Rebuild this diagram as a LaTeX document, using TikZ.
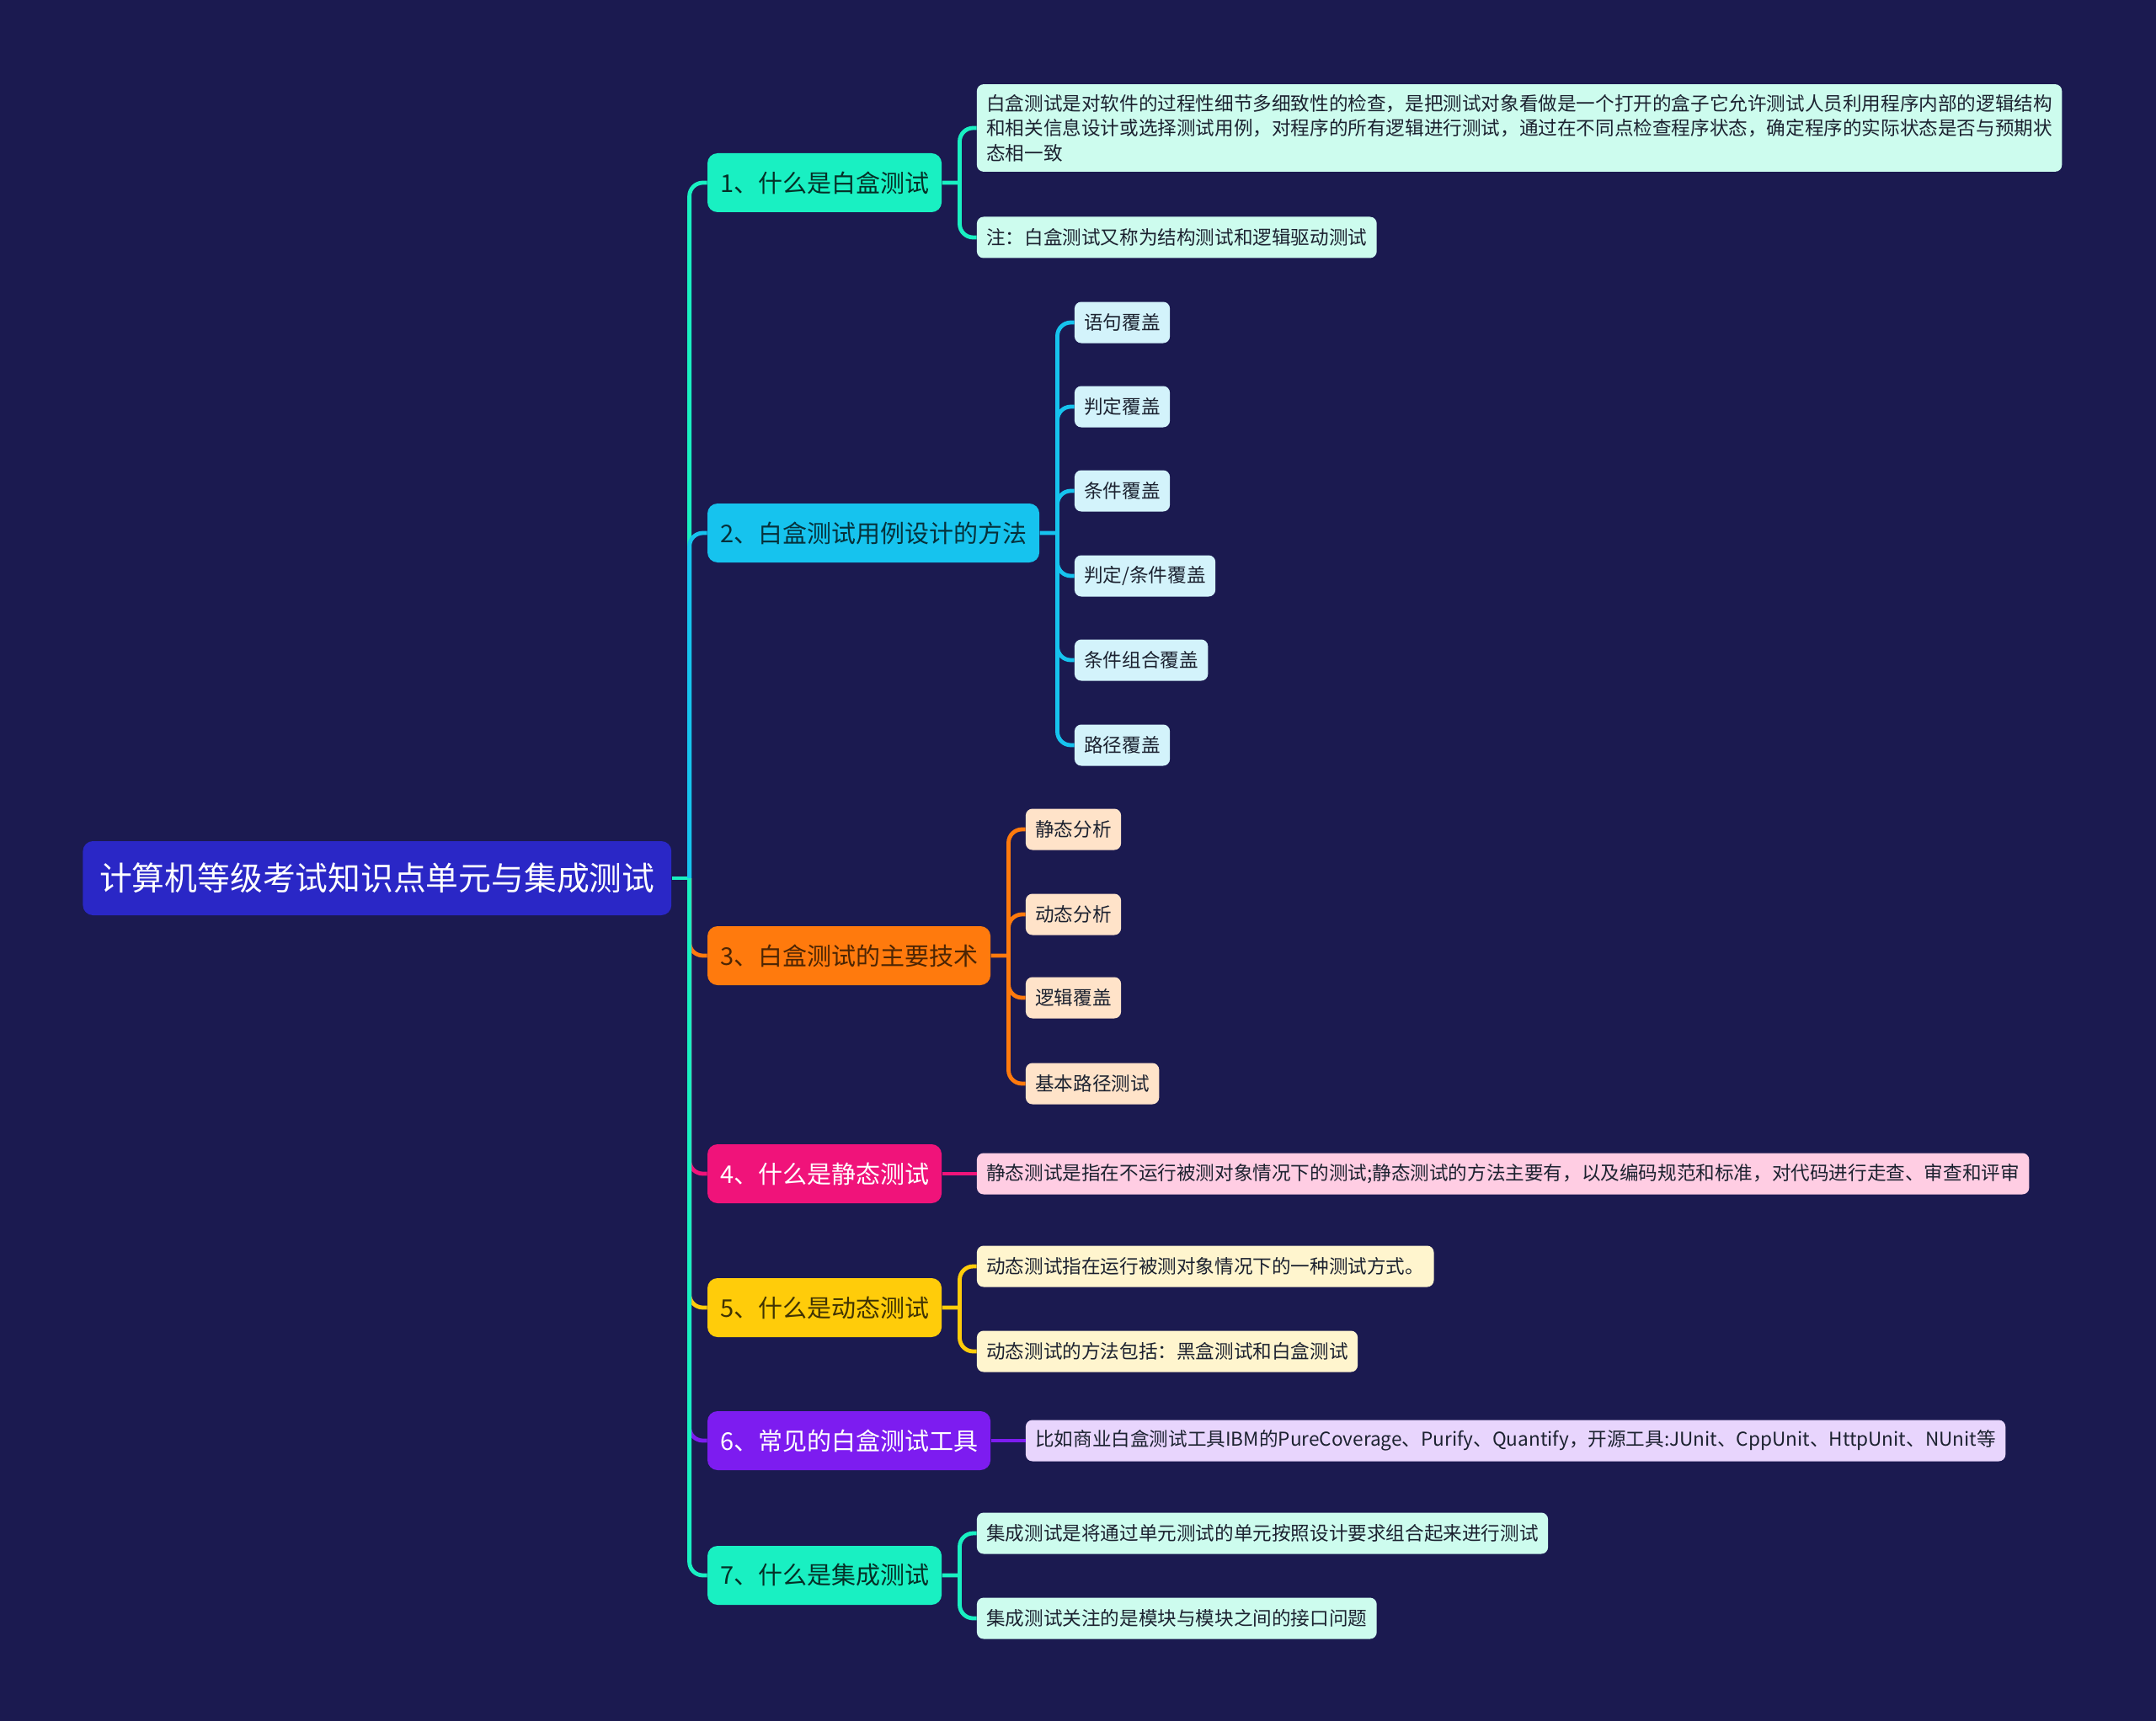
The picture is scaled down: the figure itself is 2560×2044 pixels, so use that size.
\documentclass[tikz,border=0pt]{standalone}
\usepackage{fontspec}
\setmainfont{Noto Sans CJK SC}
\usetikzlibrary{positioning}

\definecolor{bgnavy}{HTML}{1B1A50}
\definecolor{rootblue}{HTML}{2A27C6}
\definecolor{col1}{HTML}{19F0C2}
\definecolor{col2}{HTML}{16C3EE}
\definecolor{col3}{HTML}{FF7A0D}
\definecolor{col4}{HTML}{F0137A}
\definecolor{col5}{HTML}{FFCC0A}
\definecolor{col6}{HTML}{7D1CF0}
\definecolor{pale1}{HTML}{CDFCEE}
\definecolor{pale2}{HTML}{D3F3FB}
\definecolor{pale3}{HTML}{FFE3C9}
\definecolor{pale4}{HTML}{FFCDE3}
\definecolor{pale5}{HTML}{FFF5CE}
\definecolor{pale6}{HTML}{E8D5FD}
\definecolor{leaftext}{HTML}{1C2230}

\tikzset{
    root/.style={fill=rootblue, text=white, rounded corners=6pt, inner xsep=9.8pt,
        minimum height=44pt, font=\fontsize{19.4pt}{23pt}\selectfont},
    branch/.style={rounded corners=6pt, inner xsep=7.5pt, minimum height=35pt,
        font=\fontsize{14.5pt}{17pt}\selectfont},
    leaf/.style={rounded corners=4pt, inner xsep=5.7pt, inner ysep=4pt, text=leaftext,
        minimum height=24.5pt, align=left, font=\fontsize{11.3pt}{14.7pt}\selectfont},
    link/.style={line width=2.4pt, rounded corners=8pt},
}

\begin{document}
\begin{tikzpicture}[x=0.5pt, y=-0.5pt]
    \fill[bgnavy] (0,0) rectangle (2560,2044);

    \node[root, anchor=west] (root) at (98,1043) {计算机等级考试知识点单元与集成测试};

    \node[branch, fill=col1, text=col1!20!black, right=21pt of root.east, yshift=413pt] (b1) {1、什么是白盒测试};
    \node[branch, fill=col2, text=col2!25!black, right=21pt of root.east, yshift=205pt] (b2) {2、白盒测试用例设计的方法};
    \node[branch, fill=col3, text=col3!30!black, right=21pt of root.east, yshift=-46pt] (b3) {3、白盒测试的主要技术};
    \node[branch, fill=col4, text=white, right=21pt of root.east, yshift=-175.5pt] (b4) {4、什么是静态测试};
    \node[branch, fill=col5, text=col5!25!black, right=21pt of root.east, yshift=-255pt] (b5) {5、什么是动态测试};
    \node[branch, fill=col6, text=white, right=21pt of root.east, yshift=-334pt] (b6) {6、常见的白盒测试工具};
    \node[branch, fill=col1, text=col1!20!black, right=21pt of root.east, yshift=-414pt] (b7) {7、什么是集成测试};

    % leaves of 1
    \node[leaf, fill=pale1, inner ysep=6pt, right=20.5pt of b1.east, yshift=32.5pt] (l11)
        {白盒测试是对软件的过程性细节多细致性的检查，是把测试对象看做是一个打开的盒子它允许测试人员利用程序内部的逻辑结构\\
         和相关信息设计或选择测试用例，对程序的所有逻辑进行测试，通过在不同点检查程序状态，确定程序的实际状态是否与预期状\\
         态相一致};
    \node[leaf, fill=pale1, right=20.5pt of b1.east, yshift=-32.5pt] (l12) {注：白盒测试又称为结构测试和逻辑驱动测试};

    % leaves of 2
    \node[leaf, fill=pale2, right=20.5pt of b2.east, yshift=125pt] (l21) {语句覆盖};
    \node[leaf, fill=pale2, right=20.5pt of b2.east, yshift=75pt] (l22) {判定覆盖};
    \node[leaf, fill=pale2, right=20.5pt of b2.east, yshift=25pt] (l23) {条件覆盖};
    \node[leaf, fill=pale2, right=20.5pt of b2.east, yshift=-25.5pt] (l24) {判定/条件覆盖};
    \node[leaf, fill=pale2, right=20.5pt of b2.east, yshift=-75.5pt] (l25) {条件组合覆盖};
    \node[leaf, fill=pale2, right=20.5pt of b2.east, yshift=-126pt] (l26) {路径覆盖};

    % leaves of 3
    \node[leaf, fill=pale3, right=20.5pt of b3.east, yshift=75pt] (l31) {静态分析};
    \node[leaf, fill=pale3, right=20.5pt of b3.east, yshift=24.5pt] (l32) {动态分析};
    \node[leaf, fill=pale3, right=20.5pt of b3.east, yshift=-25pt] (l33) {逻辑覆盖};
    \node[leaf, fill=pale3, right=20.5pt of b3.east, yshift=-76pt] (l34) {基本路径测试};

    % leaves of 4 to 7
    \node[leaf, fill=pale4, right=20.5pt of b4.east] (l41) {静态测试是指在不运行被测对象情况下的测试;静态测试的方法主要有，以及编码规范和标准，对代码进行走查、审查和评审};
    \node[leaf, fill=pale5, right=20.5pt of b5.east, yshift=24.5pt] (l51) {动态测试指在运行被测对象情况下的一种测试方式。};
    \node[leaf, fill=pale5, right=20.5pt of b5.east, yshift=-26pt] (l52) {动态测试的方法包括：黑盒测试和白盒测试};
    \node[leaf, fill=pale6, right=20.5pt of b6.east] (l61) {比如商业白盒测试工具IBM的PureCoverage、Purify、Quantify，开源工具:JUnit、CppUnit、HttpUnit、NUnit等};
    \node[leaf, fill=pale1, right=20.5pt of b7.east, yshift=25pt] (l71) {集成测试是将通过单元测试的单元按照设计要求组合起来进行测试};
    \node[leaf, fill=pale1, right=20.5pt of b7.east, yshift=-25.5pt] (l72) {集成测试关注的是模块与模块之间的接口问题};

    % main spine
    \coordinate (rj) at ([xshift=10.5pt]root.east);
    \draw[link, col1] (root.east) -- (rj);
    \draw[link, col1] (rj) |- (b1.west);
    \draw[link, col2] (rj) |- (b2.west);
    \draw[link, col3] (rj) |- (b3.west);
    \draw[link, col4] (rj) |- (b4.west);
    \draw[link, col5] (rj) |- (b5.west);
    \draw[link, col6] (rj) |- (b6.west);
    \draw[link, col1] (rj) |- (b7.west);

    % branch to leaves
    \coordinate (j1) at ([xshift=10.5pt]b1.east);
    \draw[link, col1] (b1.east) -- (j1) (j1) |- (l11.west) (j1) |- (l12.west);
    \coordinate (j2) at ([xshift=10.5pt]b2.east);
    \draw[link, col2] (b2.east) -- (j2) (j2) |- (l21.west) (j2) |- (l22.west) (j2) |- (l23.west)
        (j2) |- (l24.west) (j2) |- (l25.west) (j2) |- (l26.west);
    \coordinate (j3) at ([xshift=10.5pt]b3.east);
    \draw[link, col3] (b3.east) -- (j3) (j3) |- (l31.west) (j3) |- (l32.west) (j3) |- (l33.west)
        (j3) |- (l34.west);
    \draw[link, col4] (b4.east) -- (l41.west);
    \coordinate (j5) at ([xshift=10.5pt]b5.east);
    \draw[link, col5] (b5.east) -- (j5) (j5) |- (l51.west) (j5) |- (l52.west);
    \draw[link, col6] (b6.east) -- (l61.west);
    \coordinate (j7) at ([xshift=10.5pt]b7.east);
    \draw[link, col1] (b7.east) -- (j7) (j7) |- (l71.west) (j7) |- (l72.west);
\end{tikzpicture}
\end{document}
